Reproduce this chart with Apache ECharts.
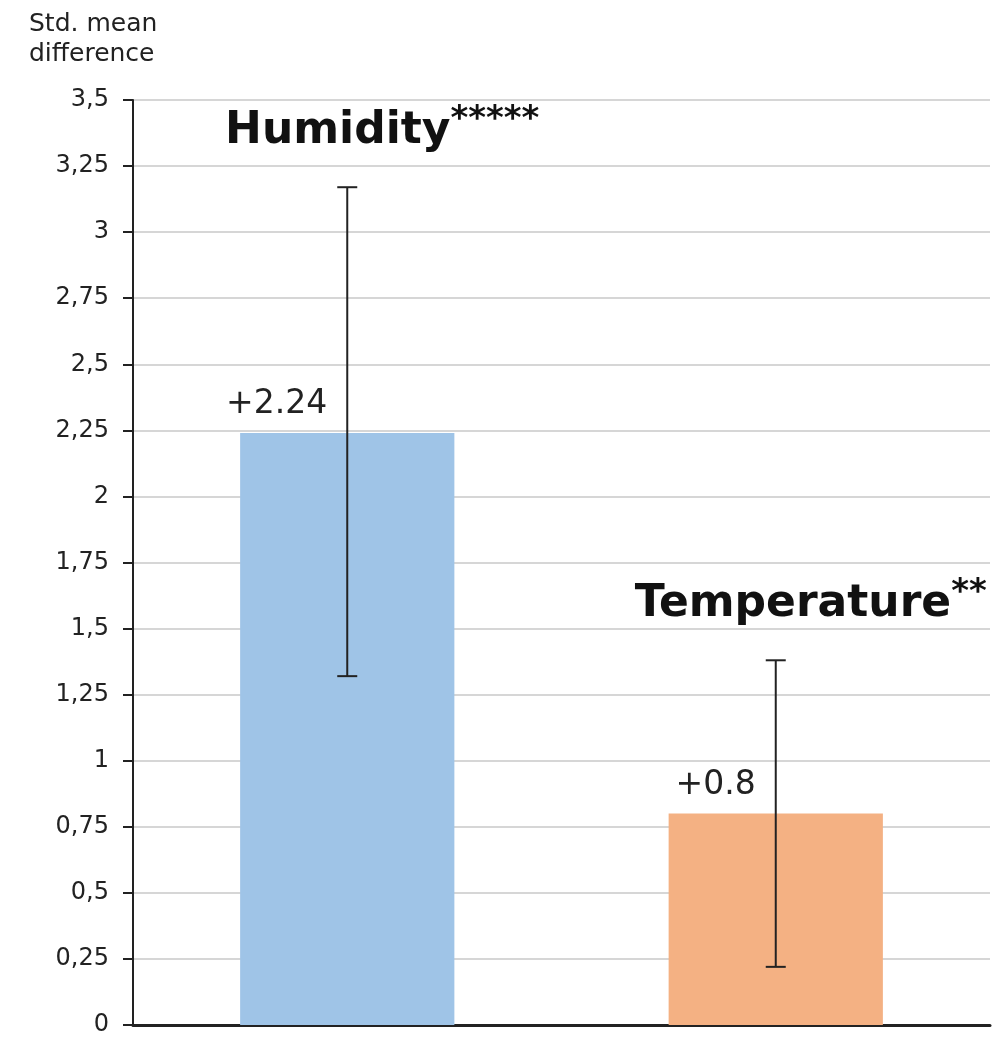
<!DOCTYPE html>
<html>
<head>
<meta charset="utf-8">
<script src="https://cdn.jsdelivr.net/npm/echarts@6/dist/echarts.min.js"></script>
<style>html,body{margin:0;padding:0;background:#fff;}#c{width:1000px;height:1037px;}</style>
</head>
<body>
<div id="c"></div>
<script>
const categories = ['Humidity', 'Temperature'];
const stars = ['*****', '**'];
const values = [2.24, 0.8];
const errLow = [1.32, 0.22];
const errHigh = [3.17, 1.38];
const yMin = 0, yMax = 3.5, yStep = 0.25;
const barColors = ['#9fc4e7', '#f4b183'];

const FONT = '"DejaVu Sans", sans-serif';
const chart = echarts.init(document.getElementById('c'));
chart.setOption({
  backgroundColor: '#fff',
  animation: false,
  title: {
    text: 'Std. mean\ndifference',
    left: 24, top: 4,
    textStyle: { fontFamily: FONT, fontSize: 25, fontWeight: 'normal', color: '#222', lineHeight: 30 }
  },
  grid: { left: 133, right: 10, top: 100, bottom: 11 },
  xAxis: {
    type: 'category',
    data: categories,
    axisLine: { lineStyle: { color: '#222', width: 3 } },
    axisTick: { show: false },
    axisLabel: { show: false },
    splitLine: { show: false }
  },
  yAxis: {
    type: 'value',
    min: yMin, max: yMax, interval: yStep,
    axisLine: { show: true, lineStyle: { color: '#222', width: 2 } },
    axisTick: { show: true, length: 10, lineStyle: { color: '#222', width: 2 } },
    axisLabel: {
      margin: 24, fontFamily: FONT, fontSize: 24, color: '#222',
      formatter: v => String(v).replace('.', ',')
    },
    splitLine: { lineStyle: { color: '#c8c8c8', width: 1.5 } }
  },
  series: [
    {
      type: 'bar',
      barWidth: '50%',
      data: values.map((v, i) => ({ value: v, itemStyle: { color: barColors[i] } })),
      label: {
        show: true, position: 'top', distance: 12, align: 'right', offset: [-20, 0],
        fontFamily: FONT, fontSize: 33, color: '#222',
        formatter: p => '+' + p.value
      },
      z: 2
    },
    {
      type: 'custom',
      z: 5,
      data: categories.map((c, i) => [i, errLow[i], errHigh[i]]),
      renderItem: (params, api) => {
        const idx = api.value(0);
        const lo = api.coord([idx, api.value(1)]);
        const hi = api.coord([idx, api.value(2)]);
        const cap = 10;
        const ls = { stroke: '#222', lineWidth: 2 };
        return {
          type: 'group',
          children: [
            { type: 'line', shape: { x1: lo[0], y1: lo[1], x2: hi[0], y2: hi[1] }, style: ls },
            { type: 'line', shape: { x1: lo[0] - cap, y1: lo[1], x2: lo[0] + cap, y2: lo[1] }, style: ls },
            { type: 'line', shape: { x1: hi[0] - cap, y1: hi[1], x2: hi[0] + cap, y2: hi[1] }, style: ls },
            {
              type: 'text',
              x: hi[0] + 35, y: hi[1] - 28,
              style: {
                text: '{n|' + categories[idx] + '}{s|' + stars[idx] + '}',
                align: 'center', verticalAlign: 'bottom',
                rich: {
                  n: { fontFamily: FONT, fontSize: 44, fontWeight: 'bold', fill: '#111', lineHeight: 56 },
                  s: { fontFamily: FONT, fontSize: 34, fontWeight: 'bold', fill: '#111', verticalAlign: 'top', lineHeight: 30 }
                }
              }
            }
          ]
        };
      }
    }
  ]
});
</script>
</body>
</html>
